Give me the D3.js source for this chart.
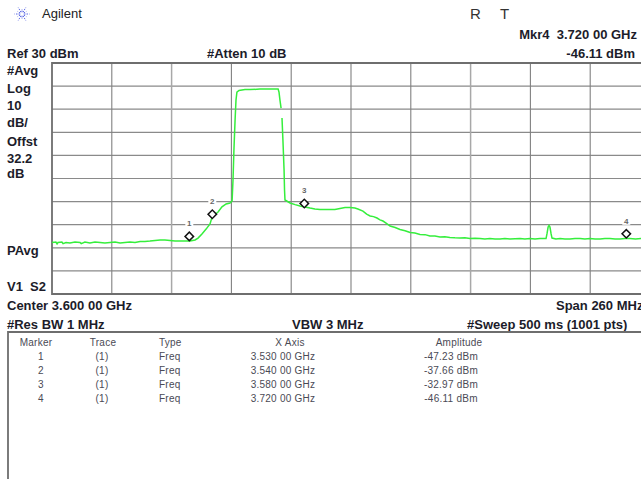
<!DOCTYPE html>
<html>
<head>
<meta charset="utf-8">
<script src="https://cdn.jsdelivr.net/npm/d3@7"></script>
<style>
  html, body { margin: 0; padding: 0; background: #fff; overflow: hidden; }
  svg { display: block; }
  text { font-family: "Liberation Sans", Arial, sans-serif; }
  .lbl { font-size: 13px; font-weight: bold; fill: #1c1c2a; }
  .tbl { font-size: 10px; fill: #4a4a55; letter-spacing: 0.25px; }
</style>
</head>
<body>
<div id="chart"></div>
<script>
// Grille de l'analyseur
const freqTicks = [3470, 3496, 3522, 3548, 3574, 3600, 3626, 3652, 3678, 3704];
const levelTicks = [30, 20, 10, 0, -10, -20, -30, -40, -50, -60, -70];

// Trace (MHz / dBm), null = trou dans la trace
const traceFreq = [
  3470, 3471.7, 3472.2, 3472.6, 3474.3, 3474.8, 3476.1, 3477.8, 3480, 3482.2, 3482.7, 3484.3, 3486.5, 3488.7, 3490.9,
  3493, 3495.2, 3497.4, 3499.6, 3501.7, 3503.9, 3506.1, 3508.3, 3510.4, 3512.6, 3514.8, 3517, 3519.1,
  3521.3, 3523.5, 3525.7, 3527.8, 3530, 3532.2, 3533.5, 3535.2, 3537, 3538.7, 3539.6, 3542.2, 3543.9,
  3545.7, 3547.4, 3548.3, 3548.7, 3549.1, 3549.6, 3550, 3550.4, 3551.3, 3553.9, 3556.1, 3560.4, 3564.8,
  3568.3, 3568.7, 3569.1, 3569.6, 3569.8, 3570, 3570.4, 3570.9, 3571.1, 3571.3, 3573.5, 3575.7, 3577.8,
  3580, 3582.2, 3584.3, 3586.5, 3588.7, 3590.9, 3593, 3595.2, 3597.4, 3599.6, 3601.7, 3603, 3605.2,
  3606.8, 3608.3, 3609.8, 3611.3, 3612.6, 3613.9, 3615.4, 3617, 3619.2, 3621.3, 3623.5, 3625.7, 3627.8, 3630, 3632.2, 3634.3, 3636.5, 3638.7, 3640.8, 3643, 3645.2, 3647.4, 3649.5, 3651.7, 3653.9, 3656.1,
  3658.2, 3660.4, 3662.6, 3664.8, 3666.9, 3669.1, 3671.3, 3673.5, 3675.6, 3677.8, 3680, 3682.2, 3684.8, 3685.2, 3685.7, 3686.1, 3686.5, 3687, 3687.4,
  3689.1, 3690.9, 3693, 3695.2, 3697.4, 3699.6, 3701.7, 3703.9, 3706.1, 3708.3, 3710.4, 3712.6, 3714.8, 3717, 3719.1, 3721.3, 3723.7, 3726.1
];
const traceLevel = [
  -47.7, -47.5, -48.3, -47.7, -47.5, -48.2, -47.7, -47.9, -47.5, -47.7, -48.2, -47.5, -47.9, -47.5, -47.7,
  -47.9, -47.7, -47.5, -47.9, -47.7, -47.5, -47.7, -47.3, -47.3, -47.1, -46.8, -46.6, -46.6,
  -46.8, -47.1, -47.1, -47.1, -47.1, -46.6, -45.8, -44, -41.9, -39.7, -36.7, -34.5, -32.3,
  -31, -30.6, -29.7, -20.6, -7.7, 5.3, 14, 17.4, 18.1, 18.5, 18.5, 18.7, 18.7,
  18.7, 17.4, 14, 10.5, null, 6.2, -3.3, -16.3, -25, -29.3, -30.6, -31.3, -31.9,
  -32.3, -32.8, -33.2, -33.4, -33.4, -33.4, -33.4, -33, -32.6, -32.6, -32.8, -33.2, -34.1,
  -35.4, -36.2, -36.5, -37.1, -37.9, -38.4, -39.4, -40.6, -41.2, -42.1, -42.6, -43.4, -43.6, -44.2, -44.3, -44.9, -44.9, -45.3, -45.2, -45.5, -45.7, -45.8, -45.7, -46, -45.9, -46,
  -46.2, -46, -46.2, -46.2, -46, -46.2, -46.1, -46, -46.2, -46, -46.2, -46, -46, -44, -41, -40.3, -41, -44, -45.8,
  -46.2, -46, -46.2, -46.2, -46, -46, -46.2, -46, -46.2, -46.2, -46, -46, -46.2, -46.2, -46, -46, -46.2, -46
];

// Marqueurs
const markerIds = ["1", "2", "3", "4"];
const markerFreq = [3530, 3540, 3580, 3720];
const markerAmp = [-47.23, -37.66, -32.97, -46.11];

// Textes de l'écran
const tableHead = ["Marker", "Trace", "Type", "X Axis", "Amplitude"];
const tableTrace = ["(1)", "(1)", "(1)", "(1)"];
const tableType = ["Freq", "Freq", "Freq", "Freq"];
const tableX = ["3.530 00 GHz", "3.540 00 GHz", "3.580 00 GHz", "3.720 00 GHz"];
const tableAmp = ["-47.23 dBm", "-37.66 dBm", "-32.97 dBm", "-46.11 dBm"];
const sideLabels = ["#Avg", "Log", "10", "dB/", "Offst", "32.2", "dB"];

const width = 641;
const height = 479;
const plot = { left: 52, right: 650, top: 63, bottom: 294 };

const svg = d3.select("#chart").append("svg")
  .attr("width", width)
  .attr("height", height)
  .attr("viewBox", [0, 0, width, height]);

const scaleX = d3.scaleLinear().domain([3470, 3730]).range([plot.left, plot.right]);
const scaleY = d3.scaleLinear().domain([30, -70]).range([plot.top, plot.bottom]);

// Grille
svg.append("g").selectAll("line").data(levelTicks.slice(1, -1)).join("line")
  .attr("x1", plot.left).attr("x2", width)
  .attr("y1", d => scaleY(d)).attr("y2", d => scaleY(d))
  .attr("stroke", "#8a8a8a").attr("stroke-width", 1.2);

svg.append("g").selectAll("line").data(freqTicks.slice(1)).join("line")
  .attr("x1", d => scaleX(d)).attr("x2", d => scaleX(d))
  .attr("y1", plot.top).attr("y2", plot.bottom)
  .attr("stroke", (d, i) => i % 5 === 1 ? "#a8a8a8" : "#808080")
  .attr("stroke-width", (d, i) => i % 5 === 1 ? 1.5 : 1.1);

// Cadre
svg.append("path")
  .attr("d", `M${width},${plot.top}H${plot.left}V${plot.bottom}H${width}`)
  .attr("fill", "none")
  .attr("stroke", "#6e6e6e")
  .attr("stroke-width", 1.8);

// Trace
const traceData = traceFreq.map((f, i) => ({ f: f, v: traceLevel[i] }));
const line = d3.line()
  .defined(d => d.v !== null)
  .x(d => scaleX(d.f))
  .y(d => scaleY(d.v));

svg.append("path")
  .datum(traceData)
  .attr("d", line)
  .attr("fill", "none")
  .attr("stroke", "#35ee3c")
  .attr("stroke-width", 1.5);

// Marqueurs : losange au-dessus de la trace, numéro encore au-dessus
const markerLift = 5;
const markers = svg.append("g").selectAll("g").data(markerIds).join("g")
  .attr("transform", (d, i) => `translate(${scaleX(markerFreq[i]) - 0.7},${scaleY(markerAmp[i]) - markerLift})`);

markers.append("rect")
  .attr("x", -4).attr("y", -17).attr("width", 8).attr("height", 8)
  .attr("fill", "#fff");

markers.append("path")
  .attr("d", d3.symbol().type(d3.symbolSquare).size(36))
  .attr("transform", "rotate(45)")
  .attr("fill", "#fff")
  .attr("stroke", "#111")
  .attr("stroke-width", 1.5);

markers.append("text")
  .attr("y", -10)
  .attr("text-anchor", "middle")
  .attr("font-size", 8)
  .attr("font-weight", "bold")
  .attr("fill", "#666")
  .text(d => d);

// Logo Agilent
const logo = svg.append("g").attr("transform", "translate(22,14)");
logo.selectAll("line").data(d3.range(12)).join("line")
  .attr("x1", d => 2 * Math.cos(d * Math.PI / 6))
  .attr("y1", d => 2 * Math.sin(d * Math.PI / 6))
  .attr("x2", d => (d % 2 ? 5 : 7.5) * Math.cos(d * Math.PI / 6))
  .attr("y2", d => (d % 2 ? 5 : 7.5) * Math.sin(d * Math.PI / 6))
  .attr("stroke", "#3344dd")
  .attr("stroke-width", 0.8)
  .attr("stroke-dasharray", "1.5 1");

// Textes
const put = (cls, x, y, txt, anchor = "start") =>
  svg.append("text").attr("class", cls).attr("x", x).attr("y", y)
    .attr("text-anchor", anchor).style("white-space", "pre").text(txt);

svg.append("text").attr("x", 42).attr("y", 18).attr("font-size", 13).attr("fill", "#222").text("Agilent");
svg.append("text").attr("x", 470).attr("y", 19).attr("font-size", 15).attr("fill", "#333").text("R");
svg.append("text").attr("x", 500).attr("y", 19).attr("font-size", 15).attr("fill", "#333").text("T");

put("lbl", 637, 39, "Mkr4  3.720 00 GHz", "end");
put("lbl", 635, 58, "-46.11 dBm", "end");
put("lbl", 7, 58, "Ref 30 dBm");
put("lbl", 207, 58, "#Atten 10 dB");

const sideY = [75, 93, 110, 127, 146, 163, 178];
sideLabels.forEach((t, i) => put("lbl", 7, sideY[i], t));
put("lbl", 7, 255, "PAvg");
put("lbl", 7, 291, "V1  S2");
put("lbl", 7, 310, "Center 3.600 00 GHz");
put("lbl", 556, 310, "Span 260 MHz");
put("lbl", 7, 329, "#Res BW 1 MHz");
put("lbl", 292, 329, "VBW 3 MHz");
put("lbl", 467, 329, "#Sweep 500 ms (1001 pts)");

// Tableau des marqueurs
svg.append("path")
  .attr("d", `M${width},332H8V${height}`)
  .attr("fill", "none")
  .attr("stroke", "#6e6e6e")
  .attr("stroke-width", 1.8);

const colX = [36, 103, 159, 290, 459];
const colAnchor = ["middle", "middle", "start", "middle", "middle"];
tableHead.forEach((t, i) => put("tbl", colX[i], 346, t, colAnchor[i]));

const rowY = d3.scalePoint().domain(markerIds).range([360, 402]);
markerIds.forEach((id, i) => {
  put("tbl", 41, rowY(id), id, "middle");
  put("tbl", 102, rowY(id), tableTrace[i], "middle");
  put("tbl", 159, rowY(id), tableType[i]);
  put("tbl", 283, rowY(id), tableX[i], "middle");
  put("tbl", 451, rowY(id), tableAmp[i], "middle");
});
</script>
</body>
</html>
